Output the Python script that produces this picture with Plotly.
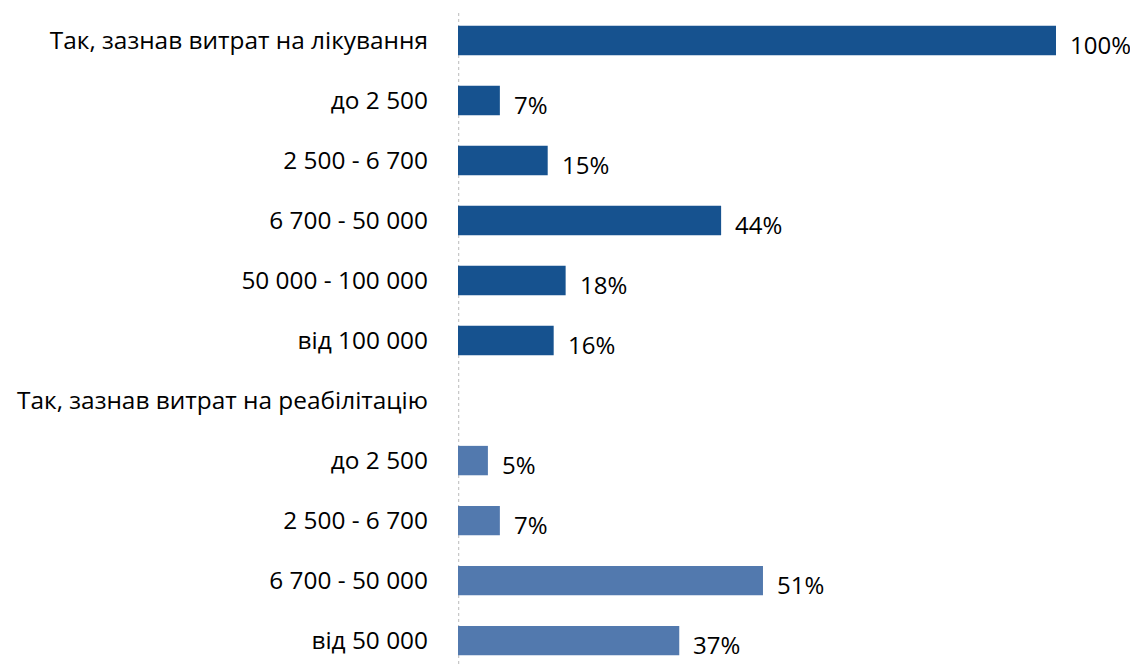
import plotly.graph_objects as go

categories = [
    "Так, зазнав витрат на лікування",
    "до 2 500",
    "2 500 - 6 700",
    "6 700 - 50 000",
    "50 000 - 100 000",
    "від 100 000",
    "Так, зазнав витрат на реабілітацію",
    "до 2 500",
    "2 500 - 6 700",
    "6 700 - 50 000",
    "від 50 000",
]
values = [100, 7, 15, 44, 18, 16, None, 5, 7, 51, 37]
groups = ["med", "med", "med", "med", "med", "med", "reh", "reh", "reh", "reh", "reh"]

color_map = {"med": "#16528F", "reh": "#5279AE"}
colors = [color_map[g] for g in groups]

FONT = "Open Sans, Noto Sans, sans-serif"
FS_TICK = 24.4
FS_LABEL = 24

fig = go.Figure()
fig.add_trace(go.Bar(
    y=list(range(len(categories))),
    x=[v if v is not None else 0 for v in values],
    orientation="h",
    marker=dict(color=colors, line=dict(width=0)),
    width=0.49,
    hoverinfo="skip",
))

for i, v in enumerate(values):
    if v is None:
        continue
    fig.add_annotation(
        x=v, y=i, text=f"{v}%", showarrow=False,
        xanchor="left", yanchor="middle", xshift=12, yshift=-4,
        font=dict(family=FONT, size=FS_LABEL, color="#000000"),
    )

fig.add_shape(
    type="line", xref="x", yref="paper", x0=0, x1=0, y0=0, y1=0.994,
    line=dict(color="#C8C8C8", width=2.5, dash="dot"), layer="below",
)

fig.update_layout(
    width=1130, height=656,
    margin=dict(l=450, r=82, t=0, b=0),
    paper_bgcolor="white", plot_bgcolor="white",
    showlegend=False,
    font=dict(family=FONT, size=FS_TICK, color="#000000"),
    xaxis=dict(range=[0, 100], visible=False, fixedrange=True),
    yaxis=dict(
        range=[10.39, -0.542],
        tickmode="array",
        tickvals=list(range(len(categories))),
        ticktext=categories,
        showgrid=False, zeroline=False, showline=False,
        ticks="", ticklabelstandoff=29,
        tickfont=dict(family=FONT, size=FS_TICK, color="#000000"),
    ),
)

fig.write_html("out.html")
